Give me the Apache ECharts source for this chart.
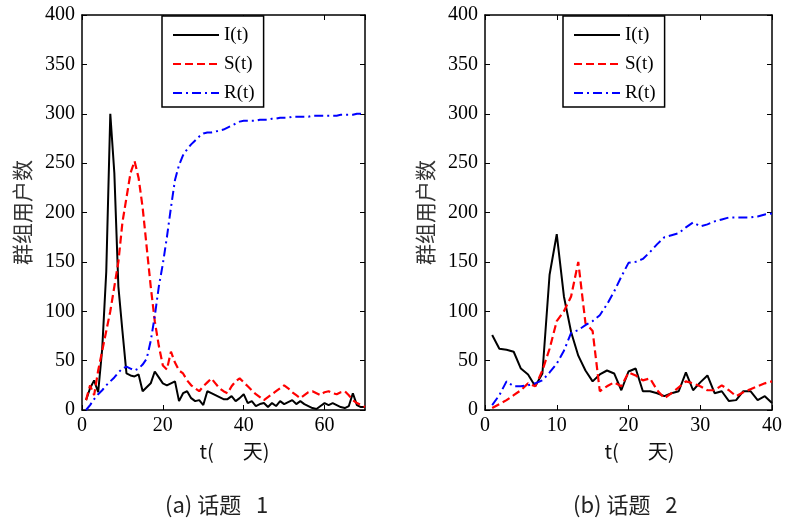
<!DOCTYPE html>
<html>
<head>
<meta charset="utf-8">
<script src="https://cdn.jsdelivr.net/npm/echarts@6/dist/echarts.min.js"></script>
<style>
html,body{margin:0;padding:0;background:#fff;}
#c{width:785px;height:524px;}
</style>
</head>
<body>
<div id="c"></div>
<script>
// ---- Data ----
const seriesNames = ['I(t)', 'S(t)', 'R(t)'];
const yTicks = [0, 50, 100, 150, 200, 250, 300, 350, 400];
const xTicksA = [0, 20, 40, 60];
const xTicksB = [0, 10, 20, 30, 40];
const captionA = '(a) 话题   1';
const captionB = '(b) 话题   2';
const xName = 't(\u3000  天)';
const yName = '群组用户数';

// topic 1: days 1..70
const daysA = Array.from({length: 70}, (_, i) => i + 1);
const I_A = [10,22,30,18,62,140,300,240,125,80,
             37,35,34,36,19,23,27,39,33,27,
             25,27,29,9,17,19,12,9,10,5,
             19,17,15,13,11,11,14,9,12,16,
             7,9,4,6,7,3,7,4,9,6,
             8,10,6,9,6,4,2,1,4,7,
             5,7,5,3,2,4,17,5,3,3];
const S_A = [10,25,15,40,60,80,100,125,150,190,
             215,240,252,235,205,165,125,90,65,45,
             41,59,48,40,37,30,25,22,19,24,
             28,32,27,22,19,17,24,29,32,28,
             24,20,16,13,10,13,16,19,22,25,
             22,18,15,12,15,18,19,17,15,18,
             19,17,16,18,19,15,10,7,5,3];
const R_A = [0,5,11,16,20,25,29,33,38,42,
             44,42,40,42,46,52,70,95,125,148,
             175,205,233,248,258,264,269,273,277,280,
             281,281,282,283,284,286,288,290,292,293,
             293,293,293,294,294,294,295,295,296,296,
             296,297,297,297,297,297,298,298,298,298,
             298,298,298,299,299,299,299,300,300,300];

// topic 2: days 1..40
const daysB = Array.from({length: 40}, (_, i) => i + 1);
const I_B = [76,62,61,59,42,36,24,37,137,178,
             115,79,55,40,29,36,40,37,20,39,
             42,19,19,17,14,17,19,38,20,28,
             35,17,19,9,10,19,19,10,14,7];
const S_B = [2,6,10,15,20,27,24,40,62,90,
             100,115,150,88,80,19,24,28,24,38,
             35,30,32,20,12,17,23,29,27,24,
             20,20,25,20,14,18,21,24,27,29];
const R_B = [5,15,29,24,24,25,27,30,38,47,
             60,78,81,86,90,96,107,120,135,149,
             150,153,160,168,175,177,179,185,190,186,
             188,191,193,195,195,195,195,196,198,199];

// ---- Styles ----
const serif = '"Liberation Serif", "Times New Roman", serif';
const cjk = '"Noto Sans CJK SC"';
const styles = [
  {color: '#000000', type: 'solid', width: 2},
  {color: '#ff0000', type: [8, 4], width: 2.2},
  {color: '#0000ff', type: [9, 4, 2, 4], width: 2}
];

function pairs(days, vals) { return days.map((d, i) => [d, vals[i]]); }

const axisLine = {show: true, onZero: false, lineStyle: {color: '#000', width: 1.5}};
const axisTick = {show: true, inside: true, length: 5, lineStyle: {color: '#000', width: 1}};
const tickRich = {n: {fontFamily: serif, fontSize: 20, color: '#000'}};

function xAxisPair(grid, max, interval, showMax) {
  return [
    {type: 'value', gridIndex: grid, position: 'bottom', min: 0, max: max, interval: interval,
     axisLine: axisLine, axisTick: axisTick, splitLine: {show: false},
     axisLabel: {color: '#000', fontFamily: serif, fontSize: 20, margin: 6, showMaxLabel: showMax,
                 formatter: '{n|{value}}', rich: tickRich},
     name: xName, nameLocation: 'middle', nameGap: 31,
     nameTextStyle: {fontFamily: cjk, fontSize: 20, color: '#111', padding: [0, 0, 0, 22]}},
    {type: 'value', gridIndex: grid, position: 'top', min: 0, max: max, interval: interval,
     axisLine: axisLine, axisTick: axisTick, splitLine: {show: false}, axisLabel: {show: false}}
  ];
}
function yAxisPair(grid) {
  return [
    {type: 'value', gridIndex: grid, position: 'left', min: yTicks[0], max: yTicks[yTicks.length - 1], interval: 50,
     axisLine: axisLine, axisTick: axisTick, splitLine: {show: false},
     axisLabel: {color: '#000', fontFamily: serif, fontSize: 20, margin: 7,
                 formatter: '{n|{value}}', rich: tickRich},
     name: yName, nameLocation: 'middle', nameGap: 49,
     nameTextStyle: {fontFamily: cjk, fontSize: 21, color: '#333', lineHeight: 22}},
    {type: 'value', gridIndex: grid, position: 'right', min: yTicks[0], max: yTicks[yTicks.length - 1], interval: 50,
     axisLine: axisLine, axisTick: axisTick, splitLine: {show: false}, axisLabel: {show: false}}
  ];
}

function mkSeries(days, arrs, xi, yi) {
  return arrs.map((vals, k) => ({
    name: seriesNames[k], type: 'line', xAxisIndex: xi, yAxisIndex: yi,
    data: pairs(days, vals), symbol: 'none', showSymbol: false, animation: false,
    lineStyle: {color: styles[k].color, type: styles[k].type, width: styles[k].width},
    itemStyle: {color: styles[k].color}
  }));
}

function mkLegend(left) {
  return {
    data: seriesNames, orient: 'vertical', left: left, top: 16,
    padding: [9, 9, 4, 10], itemWidth: 46, itemHeight: 20, itemGap: 9,
    borderColor: '#000', borderWidth: 1.5, backgroundColor: '#fff',
    selectedMode: false,
    itemStyle: {opacity: 0, borderWidth: 0},
    textStyle: {fontFamily: serif, fontSize: 19, color: '#000', lineHeight: 20}
  };
}

const chart = echarts.init(document.getElementById('c'), null, {renderer: 'canvas'});
chart.setOption({
  animation: false,
  backgroundColor: '#fff',
  textStyle: {fontFamily: serif},
  grid: [
    {left: 82, top: 15, width: 283, height: 395},
    {left: 485, top: 15, width: 287, height: 395}
  ],
  xAxis: [].concat(xAxisPair(0, 70, 20, false), xAxisPair(1, 40, 10, true)),
  yAxis: [].concat(yAxisPair(0), yAxisPair(1)),
  legend: [mkLegend(162), mkLegend(563)],
  series: [].concat(mkSeries(daysA, [I_A, S_A, R_A], 0, 0), mkSeries(daysB, [I_B, S_B, R_B], 2, 2)),
  graphic: [
    {type: 'text', left: 165, top: 494, style: {text: captionA, font: '22px "Noto Sans CJK SC"', fill: '#222'}},
    {type: 'text', left: 573, top: 494, style: {text: captionB, font: '22px "Noto Sans CJK SC"', fill: '#222'}}
  ]
});
</script>
</body>
</html>
